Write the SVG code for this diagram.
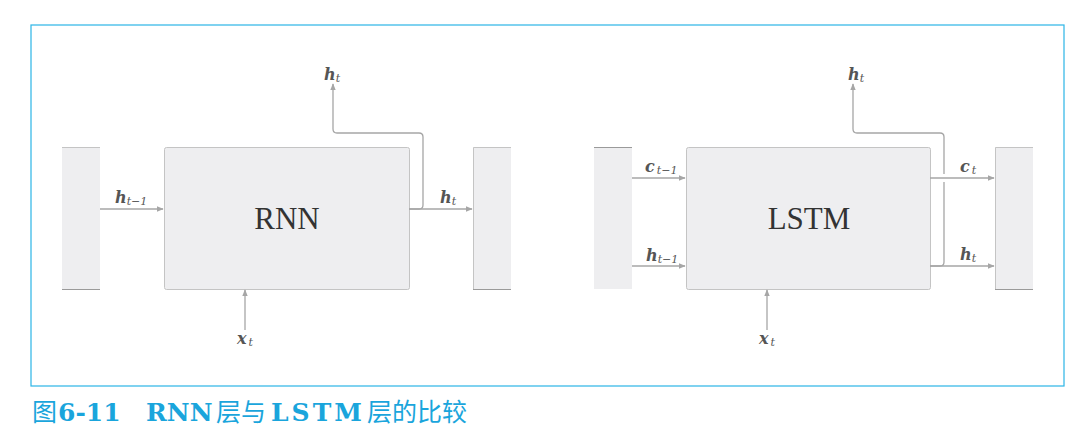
<svg xmlns="http://www.w3.org/2000/svg" width="1091" height="443" viewBox="0 0 1091 443">
<defs>
<marker id="ah" viewBox="0 0 10 10" refX="9" refY="5" markerWidth="7" markerHeight="7" orient="auto" markerUnits="userSpaceOnUse">
<path d="M0,1 L10,5 L0,9 Z" fill="#a6a6a6"/>
</marker>
<style>
.frame{fill:none;stroke:#2bb5e6;stroke-width:1.2}
.box{fill:#eeeef0;stroke:#c4c4c4;stroke-width:1}
.side{fill:#eeeef0;stroke:none}
.edge{stroke:#c4c4c4;stroke-width:1}
.edgeb{stroke:#9a9a9a;stroke-width:1}
.con{fill:none;stroke:#a6a6a6;stroke-width:1.3}
.lbl{font-family:'DejaVu Serif',serif;font-style:italic;font-weight:bold;font-size:16px;fill:#555}
.sub{font-family:'DejaVu Serif',serif;font-style:italic;font-weight:normal;font-size:11px;fill:#555}
.title{font-family:'Liberation Serif',serif;font-size:31px;fill:#333;text-anchor:middle}
.cap{font-family:'DejaVu Serif',serif;font-weight:bold;font-size:25px;fill:#1aa5dc}
.capc{font-family:'Noto Sans CJK SC',sans-serif;font-weight:normal;font-size:25px;fill:#1aa5dc}
</style>
</defs>
<rect class="frame" x="31" y="25" width="1033" height="361"/>

<g id="rnn-prev">
<rect class="side" x="62" y="147" width="38" height="142"/>
<line class="edge" x1="62" y1="147.5" x2="100" y2="147.5"/>
<line class="edgeb" x1="62" y1="289.5" x2="100" y2="289.5"/>
</g>
<g id="rnn">
<rect class="box" x="164.5" y="147.5" width="245" height="142" rx="2"/>
<text class="title" x="287" y="229">RNN</text>
</g>
<g id="rnn-next">
<rect class="side" x="473" y="147" width="38" height="142"/>
<line class="edge" x1="473.5" y1="147.5" x2="511" y2="147.5"/>
<line class="edge" x1="473.5" y1="147.5" x2="473.5" y2="289.5"/>
<line class="edgeb" x1="473" y1="289.5" x2="511" y2="289.5"/>
</g>

<g id="lstm-prev">
<rect class="side" x="594" y="147" width="38" height="142"/>
<line class="edgeb" x1="594" y1="147.5" x2="632" y2="147.5"/>
</g>
<g id="lstm">
<rect class="box" x="686.5" y="147.5" width="244" height="142" rx="2"/>
<text class="title" x="809" y="229">LSTM</text>
</g>
<g id="lstm-next">
<rect class="side" x="995" y="147" width="38" height="142"/>
<line class="edge" x1="995.5" y1="147.5" x2="1033" y2="147.5"/>
<line class="edge" x1="995.5" y1="147.5" x2="995.5" y2="289.5"/>
<line class="edgeb" x1="995" y1="289.5" x2="1033" y2="289.5"/>
</g>

<g id="connectors">
<line class="con" x1="100" y1="209" x2="163" y2="209" marker-end="url(#ah)"/>
<line class="con" x1="409" y1="209" x2="472" y2="209" marker-end="url(#ah)"/>
<path class="con" d="M409,209 H419 Q423,209 423,205 V137 Q423,133 419,133 H337 Q333,133 333,129 V84" marker-end="url(#ah)"/>
<line class="con" x1="245" y1="330" x2="245" y2="290" marker-end="url(#ah)"/>

<line class="con" x1="632" y1="178" x2="685" y2="178" marker-end="url(#ah)"/>
<line class="con" x1="632" y1="266" x2="685" y2="266" marker-end="url(#ah)"/>
<line class="con" x1="930" y1="178" x2="994" y2="178" marker-end="url(#ah)"/>
<line class="con" x1="930" y1="266" x2="994" y2="266" marker-end="url(#ah)"/>
<path class="con" d="M930,266 H940 Q944,266 944,262 V182"/>
<path class="con" d="M944,174 V137 Q944,133 940,133 H857 Q853,133 853,129 V84" marker-end="url(#ah)"/>
<line class="con" x1="767" y1="330" x2="767" y2="290" marker-end="url(#ah)"/>
</g>

<g id="labels">
<text class="lbl" x="115" y="203">h<tspan class="sub" dy="2">t−1</tspan></text>
<text class="lbl" x="440" y="203">h<tspan class="sub" dy="2">t</tspan></text>
<text class="lbl" x="324" y="80">h<tspan class="sub" dy="2">t</tspan></text>
<text class="lbl" x="237" y="344">x<tspan class="sub" dy="2" dx="2">t</tspan></text>

<text class="lbl" x="645" y="172">c<tspan class="sub" dy="2" dx="2">t−1</tspan></text>
<text class="lbl" x="646" y="261">h<tspan class="sub" dy="2">t−1</tspan></text>
<text class="lbl" x="960" y="172">c<tspan class="sub" dy="2" dx="2">t</tspan></text>
<text class="lbl" x="960" y="260">h<tspan class="sub" dy="2">t</tspan></text>
<text class="lbl" x="848" y="80">h<tspan class="sub" dy="2">t</tspan></text>
<text class="lbl" x="759" y="344">x<tspan class="sub" dy="2" dx="2">t</tspan></text>
</g>

<text y="421"><tspan class="capc" x="32">图</tspan><tspan class="cap" x="58">6-11</tspan><tspan class="cap" x="146">RNN</tspan><tspan class="capc" x="216">层与</tspan><tspan class="cap" x="271" letter-spacing="3">LSTM</tspan><tspan class="capc" x="367">层的比较</tspan></text>
</svg>
